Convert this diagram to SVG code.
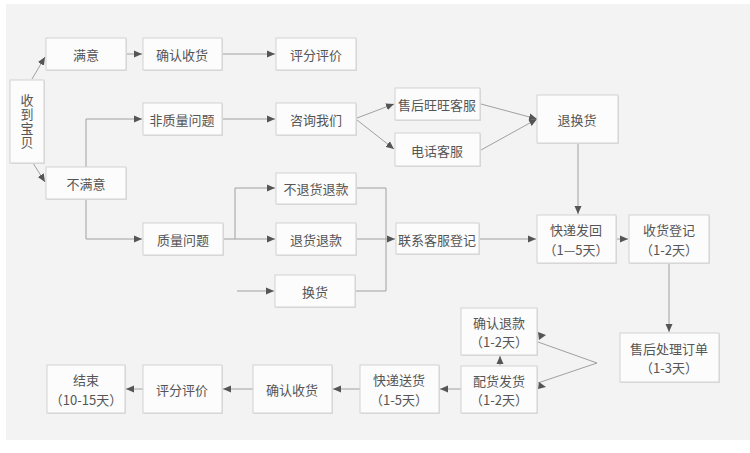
<svg xmlns="http://www.w3.org/2000/svg" width="750" height="453" viewBox="0 0 750 453">
<defs>
<style>
.b{fill:#fcfcfc;stroke:#d2d2d2;stroke-width:1}
.s{fill:#dcdcdc}
.t{font-family:"Noto Sans CJK SC","Noto Sans",sans-serif;font-size:13px;fill:#555;text-anchor:middle;dominant-baseline:central}
.v{writing-mode:vertical-rl;letter-spacing:1px}
.c{fill:none;stroke:#a0a0a0;stroke-width:1}
.a{fill:none;stroke:#a0a0a0;stroke-width:1;marker-end:url(#ar)}
</style>
<marker id="ar" viewBox="0 0 8 8" refX="8" refY="4" markerWidth="8" markerHeight="8" markerUnits="userSpaceOnUse" orient="auto">
<path d="M0,0.5 L8,4 L0,7.5 Z" fill="#555"/>
</marker>
</defs>
<rect x="0" y="0" width="750" height="453" fill="#ffffff"/>
<rect x="6" y="4" width="744" height="436" fill="#f3f3f3"/>

<g id="connectors">
<line class="a" x1="32" y1="79" x2="45" y2="57"/>
<line class="a" x1="33" y1="163" x2="45" y2="182"/>
<line class="a" x1="126" y1="54" x2="142" y2="54"/>
<line class="a" x1="222" y1="54" x2="275" y2="54"/>
<polyline class="a" points="86,167 86,119 142,119"/>
<polyline class="a" points="86,199 86,239 142,239"/>
<line class="a" x1="222" y1="119" x2="275" y2="119"/>
<line class="a" x1="357" y1="118" x2="394" y2="104"/>
<line class="a" x1="357" y1="120" x2="394" y2="149"/>
<line class="a" x1="481" y1="104" x2="537" y2="119"/>
<line class="a" x1="481" y1="150" x2="537" y2="119"/>
<line class="a" x1="578" y1="143" x2="578" y2="214"/>
<polyline class="c" points="223,239 235,239 235,188"/>
<line class="a" x1="235" y1="188" x2="275" y2="188"/>
<line class="a" x1="235" y1="239" x2="275" y2="239"/>
<line class="a" x1="237" y1="291" x2="274" y2="291"/>
<polyline class="c" points="356,188 386,188 386,291 355,291"/>
<line class="a" x1="356" y1="239" x2="395" y2="239"/>
<line class="a" x1="479" y1="239" x2="536" y2="239"/>
<line class="a" x1="616" y1="239" x2="628" y2="239"/>
<line class="a" x1="669" y1="263" x2="669" y2="332"/>
<line class="c" x1="597" y1="363" x2="524" y2="337"/>
<line class="c" x1="597" y1="363" x2="520" y2="389"/>
<path d="M538,332 L546,335 L539,340 Z" fill="#555"/>
<path d="M538,389 L546,387 L539,382 Z" fill="#555"/>
<line class="a" x1="500" y1="366" x2="500" y2="356"/>
<line class="a" x1="461" y1="389" x2="440" y2="389"/>
<line class="a" x1="360" y1="389" x2="333" y2="389"/>
<line class="a" x1="253" y1="389" x2="223" y2="389"/>
<line class="a" x1="143" y1="389" x2="126" y2="389"/>
</g>

<g id="n-shoudao"><rect class="s" x="11" y="81" width="34" height="83"/><rect class="b" x="10" y="80" width="34" height="83"/>
<text class="t v" x="27" y="122">收到宝贝</text></g>
<g id="n-manyi"><rect class="s" x="47" y="39" width="80" height="32"/><rect class="b" x="46" y="38" width="80" height="32"/><text class="t" x="86" y="54">满意</text></g>
<g id="n-queren1"><rect class="s" x="144" y="39" width="79" height="32"/><rect class="b" x="143" y="38" width="79" height="32"/><text class="t" x="182" y="54">确认收货</text></g>
<g id="n-pingfen1"><rect class="s" x="277" y="39" width="80" height="32"/><rect class="b" x="276" y="38" width="80" height="32"/><text class="t" x="316" y="54">评分评价</text></g>
<g id="n-feizhiliang"><rect class="s" x="144" y="104" width="79" height="32"/><rect class="b" x="143" y="103" width="79" height="32"/><text class="t" x="182" y="119">非质量问题</text></g>
<g id="n-bumanyi"><rect class="s" x="47" y="168" width="80" height="32"/><rect class="b" x="46" y="167" width="80" height="32"/><text class="t" x="86" y="183">不满意</text></g>
<g id="n-zixun"><rect class="s" x="277" y="104" width="80" height="32"/><rect class="b" x="276" y="103" width="80" height="32"/><text class="t" x="316" y="119">咨询我们</text></g>
<g id="n-wangwang"><rect class="s" x="396" y="89" width="85" height="32"/><rect class="b" x="395" y="88" width="85" height="32"/><text class="t" x="437" y="104">售后旺旺客服</text></g>
<g id="n-dianhua"><rect class="s" x="396" y="134" width="85" height="33"/><rect class="b" x="395" y="133" width="85" height="33"/><text class="t" x="437" y="150">电话客服</text></g>
<g id="n-tuihuan"><rect class="s" x="538" y="96" width="81" height="48"/><rect class="b" x="537" y="95" width="81" height="48"/><text class="t" x="577" y="119">退换货</text></g>
<g id="n-butuihuo"><rect class="s" x="277" y="174" width="80" height="31"/><rect class="b" x="276" y="173" width="80" height="31"/><text class="t" x="316" y="188">不退货退款</text></g>
<g id="n-zhiliang"><rect class="s" x="144" y="224" width="80" height="32"/><rect class="b" x="143" y="223" width="80" height="32"/><text class="t" x="183" y="239">质量问题</text></g>
<g id="n-tuihuo"><rect class="s" x="277" y="224" width="80" height="32"/><rect class="b" x="276" y="223" width="80" height="32"/><text class="t" x="316" y="239">退货退款</text></g>
<g id="n-huanhuo"><rect class="s" x="276" y="276" width="80" height="32"/><rect class="b" x="275" y="275" width="80" height="32"/><text class="t" x="315" y="291">换货</text></g>
<g id="n-lianxi"><rect class="s" x="397" y="224" width="83" height="31"/><rect class="b" x="396" y="223" width="83" height="31"/><text class="t" x="437" y="239">联系客服登记</text></g>
<g id="n-kuaidifahui"><rect class="s" x="538" y="216" width="79" height="48"/><rect class="b" x="537" y="215" width="79" height="48"/><text class="t" x="576" y="229.5">快递发回<tspan x="576" dy="19">（1—5天）</tspan></text></g>
<g id="n-shouhuo"><rect class="s" x="630" y="216" width="80" height="48"/><rect class="b" x="629" y="215" width="80" height="48"/><text class="t" x="669" y="229.5">收货登记<tspan x="669" dy="19">（1-2天）</tspan></text></g>
<g id="n-querentuikuan"><rect class="s" x="462" y="309" width="76" height="47"/><rect class="b" x="461" y="308" width="76" height="47"/><text class="t" x="499" y="322">确认退款<tspan x="499" dy="19">（1-2天）</tspan></text></g>
<g id="n-peihuo"><rect class="s" x="462" y="367" width="76" height="47"/><rect class="b" x="461" y="366" width="76" height="47"/><text class="t" x="499" y="380">配货发货<tspan x="499" dy="19">（1-2天）</tspan></text></g>
<g id="n-shouhouchuli"><rect class="s" x="621" y="334" width="99" height="49"/><rect class="b" x="620" y="333" width="99" height="49"/><text class="t" x="669" y="348">售后处理订单<tspan x="669" dy="19">（1-3天）</tspan></text></g>
<g id="n-jieshu"><rect class="s" x="48" y="366" width="78" height="48"/><rect class="b" x="47" y="365" width="78" height="48"/><text class="t" x="86" y="379.5">结束<tspan x="86" dy="19">（10-15天）</tspan></text></g>
<g id="n-pingfen2"><rect class="s" x="144" y="366" width="79" height="48"/><rect class="b" x="143" y="365" width="79" height="48"/><text class="t" x="182" y="389">评分评价</text></g>
<g id="n-queren2"><rect class="s" x="254" y="366" width="79" height="48"/><rect class="b" x="253" y="365" width="79" height="48"/><text class="t" x="292" y="389">确认收货</text></g>
<g id="n-kuaidisong"><rect class="s" x="361" y="366" width="79" height="48"/><rect class="b" x="360" y="365" width="79" height="48"/><text class="t" x="399" y="379.5">快递送货<tspan x="399" dy="19">（1-5天）</tspan></text></g>
</svg>
